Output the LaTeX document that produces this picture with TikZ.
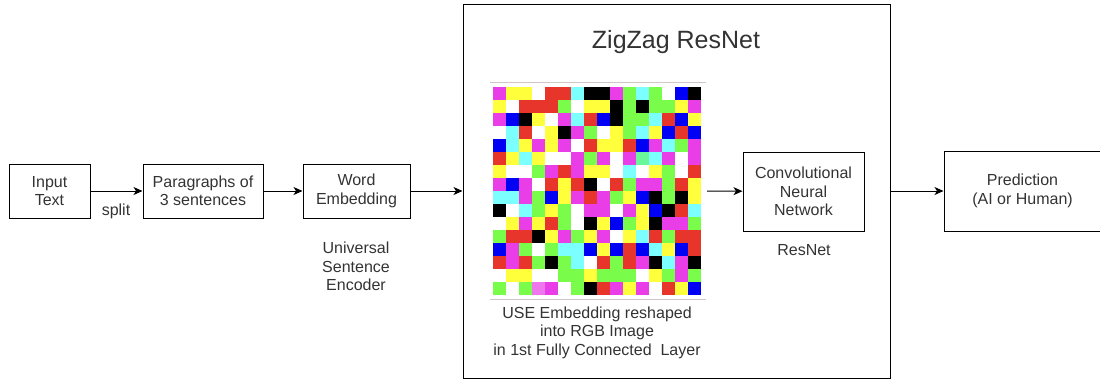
\documentclass[tikz,border=0pt]{standalone}
\usepackage{fontspec}
\setmainfont{Liberation Sans}
\usetikzlibrary{arrows.meta}
\definecolor{pxM}{HTML}{E93DE8}
\definecolor{pxY}{HTML}{FFFF3B}
\definecolor{pxR}{HTML}{E8352B}
\definecolor{pxG}{HTML}{79FC4A}
\definecolor{pxC}{HTML}{7BFFFF}
\definecolor{pxB}{HTML}{0000F5}
\definecolor{pxK}{HTML}{000000}
\definecolor{pxW}{HTML}{FFFFFF}
\definecolor{pxL}{HTML}{6AF79A}
\definecolor{pxP}{HTML}{EE77EE}
\definecolor{rulegray}{HTML}{CFC6C6}
\definecolor{inkgray}{HTML}{333333}

\begin{document}
\begin{tikzpicture}[x=1pt, y=-1pt,
    txt/.style={text=inkgray, align=center, font=\fontsize{16}{18.5}\selectfont},
    blk/.style={txt, draw, line width=1pt, inner sep=0pt},
    flow/.style={line width=1pt, -{Stealth[length=9pt, width=8pt, inset=2.5pt]}}]
    \useasboundingbox (0,0) rectangle (1100,381);

    % pipeline boxes
    \node[blk, minimum width=81pt, minimum height=54pt] (input) at (49.5,191) {Input\\Text};
    \node[blk, minimum width=120pt, minimum height=54pt] (para) at (203,191) {Paragraphs of\\3 sentences};
    \node[blk, minimum width=107pt, minimum height=54pt] (word) at (356.5,191) {Word\\Embedding};
    \node[draw, line width=1pt, minimum width=427pt, minimum height=374pt] (zz) at (676.5,191) {};
    \node[blk, minimum width=121pt, minimum height=79pt] (cnn) at (803.5,191.5) {Convolutional\\Neural\\Network};
    \node[blk, minimum width=157pt, minimum height=80pt] (pred) at (1022.5,191) {Prediction\\(AI or Human)};

    % labels
    \node[txt, anchor=base] (split) at (116,215) {split};
    \node[txt] (use) at (356,266.5) {Universal\\Sentence\\Encoder};
    \node[txt, anchor=base, font=\fontsize{25}{30}\selectfont] (title) at (676,48) {ZigZag ResNet};
    \node[txt] (caption) at (597,332.5) {USE Embedding reshaped\\into RGB Image\\in 1st Fully Connected~ Layer};
    \node[txt, anchor=base] (resnet) at (804,255) {ResNet};

    % embedding reshaped into a 16x16 RGB image
    \node[minimum size=208pt, inner sep=0pt] (img) at (597,191) {};
    \foreach \row [count=\r from 0] in {
        {M,Y,Y,W,R,R,C,K,K,M,G,C,G,W,B,K},
        {Y,W,R,R,R,G,W,Y,Y,K,G,K,G,G,Y,M},
        {M,B,K,Y,W,M,C,R,B,K,G,G,C,R,B,Y},
        {W,C,R,W,Y,K,M,G,W,Y,G,C,Y,B,R,B},
        {B,C,Y,M,Y,M,W,R,Y,Y,R,B,M,C,G,M},
        {R,Y,C,Y,W,W,M,G,M,W,M,L,C,M,W,M},
        {Y,W,W,G,M,R,M,Y,Y,W,C,W,Y,G,W,R},
        {M,B,M,W,R,Y,R,K,W,R,G,M,M,G,R,Y},
        {C,C,M,G,B,Y,M,R,M,G,Y,B,K,G,K,Y},
        {K,W,C,G,Y,G,W,M,M,W,M,Y,B,K,R,C},
        {W,Y,M,Y,R,G,W,K,Y,B,G,Y,K,M,M,G},
        {G,R,R,K,Y,M,G,Y,M,W,Y,C,R,G,R,R},
        {B,M,G,W,G,C,C,B,Y,B,R,B,C,Y,B,R},
        {R,M,R,G,K,G,C,W,R,G,R,M,K,C,M,K},
        {W,Y,Y,W,W,G,G,Y,G,G,G,W,Y,G,M,G},
        {G,W,G,P,M,W,G,K,R,M,Y,M,W,R,Y,B}}
      \foreach \c [count=\k from 0] in \row
        \fill[px\c] ({493+13*\k},{87+13*\r}) rectangle ++(13,13);
    \draw[rulegray, line width=1pt] (490,82) -- (706,82);
    \draw[rulegray, line width=1pt] (490,299) -- (706,299);

    % connectors
    \draw[flow] (input) -- (para);
    \draw[flow] (para) -- (word);
    \draw[flow] (word) -- (zz.west |- word);
    \draw[flow] ([xshift=6pt]img.east) -- (cnn);
    \draw[flow] (zz) -- (pred);
  \end{tikzpicture}
\end{document}
